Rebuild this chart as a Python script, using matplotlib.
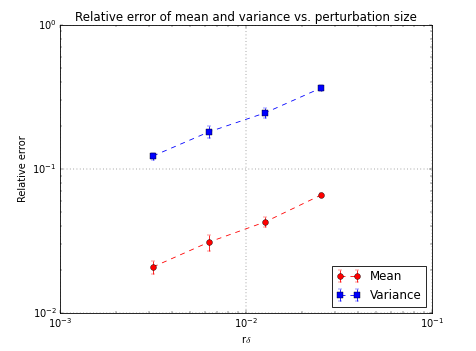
import matplotlib
matplotlib.use("Agg")
import matplotlib.pyplot as plt

plt.style.use("classic")

# perturbation sizes
r_delta = [0.00316, 0.00632, 0.01265, 0.0253]

mean_err = [0.0209, 0.0311, 0.0429, 0.0660]
mean_std = [0.0022, 0.0040, 0.0035, 0.0025]

var_err = [0.123, 0.181, 0.245, 0.365]
var_std = [0.007, 0.018, 0.020, 0.015]

fig, ax = plt.subplots(figsize=(8, 5.9), dpi=59.5)
fig.patch.set_facecolor("white")

ax.errorbar(r_delta, mean_err, yerr=mean_std, fmt="ro--", ecolor="r",
            markersize=7, label="Mean")
ax.errorbar(r_delta, var_err, yerr=var_std, fmt="bs--", ecolor="b",
            markersize=7, label="Variance")

ax.set_xscale("log")
ax.set_yscale("log")
ax.set_xlim(1e-3, 1e-1)
ax.set_ylim(1e-2, 1e0)
ax.grid(True)
ax.set_xlabel(r"r$\delta$")
ax.set_ylabel("Relative error")
ax.set_title("Relative error of mean and variance vs. perturbation size")
ax.legend(loc="lower right")

fig.subplots_adjust(left=0.126, right=0.908, top=0.929, bottom=0.108)
fig.savefig("out.png", dpi=59.5, facecolor="white")
